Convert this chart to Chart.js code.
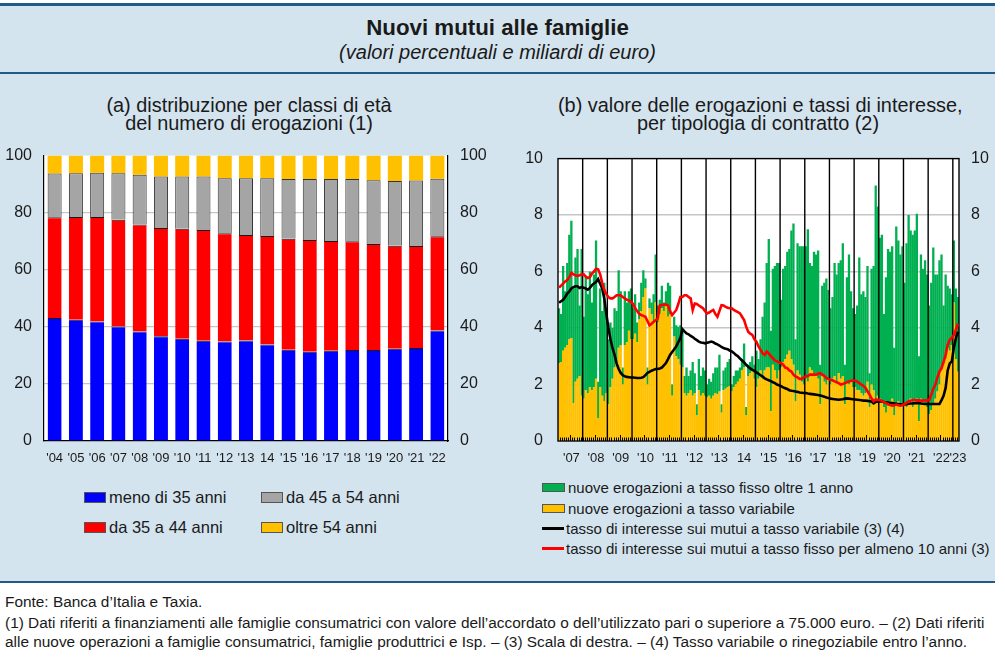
<!DOCTYPE html>
<html>
<head>
<meta charset="utf-8">
<script src="https://cdn.jsdelivr.net/npm/chart.js@4"></script>
<style>
  html, body { margin:0; padding:0; background:#ffffff; }
  body { width:1005px; height:672px; position:relative; overflow:hidden;
         font-family:"Liberation Sans", Arial, sans-serif; color:#1a1a1a; }
  .abs { position:absolute; }
  .panel { left:0; top:6px; width:995px; height:575px; background:#d3e4ef; }
  .rule { left:0; width:995px; background:#1f5b86; }
  .center { text-align:center; white-space:nowrap; }
  .lg { position:absolute; white-space:nowrap; display:flex; align-items:center; }
  .box { display:inline-block; box-sizing:border-box; border:1px solid #555; margin-right:3px; }
  .ln { display:inline-block; height:3px; margin-right:2px; }
  .foot { left:5px; font-size:15.4px; line-height:20px; white-space:nowrap; color:#1a1a1a; }
</style>
</head>
<body>
<div class="abs panel"></div>
<div class="abs rule" style="top:3px;height:3px;"></div>
<div class="abs rule" style="top:72px;height:2px;"></div>
<div class="abs rule" style="top:581px;height:2px;"></div>

<div class="abs center" style="left:0;width:995px;top:16px;font-weight:bold;font-size:22.3px;line-height:24px;">Nuovi mutui alle famiglie</div>
<div class="abs center" style="left:0;width:995px;top:41px;font-style:italic;font-size:20px;line-height:22px;">(valori percentuali e miliardi di euro)</div>

<div class="abs center" style="left:49px;width:400px;top:96px;font-size:19.9px;line-height:18px;">(a) distribuzione per classi di età<br>del numero di erogazioni (1)</div>
<div class="abs center" style="left:558px;width:400px;top:96px;font-size:19.9px;line-height:18px;">(b) valore delle erogazioni e tassi di interesse,<br>per tipologia di contratto (2)</div>

<canvas id="ageChart" class="abs" width="500" height="342" style="left:0;top:134px;"></canvas>
<canvas id="loanChart" class="abs" width="495" height="342" style="left:500px;top:134px;"></canvas>

<div class="abs foot" style="top:592px;">Fonte: Banca d’Italia e Taxia.</div>
<div class="abs foot" style="top:613px;">(1) Dati riferiti a finanziamenti alle famiglie consumatrici con valore dell’accordato o dell’utilizzato pari o superiore a 75.000 euro. – (2) Dati riferiti</div>
<div class="abs foot" style="top:632px;">alle nuove operazioni a famiglie consumatrici, famiglie produttrici e Isp. – (3) Scala di destra. – (4) Tasso variabile o rinegoziabile entro l’anno.</div>

<script>
// ---------------- Panel (a): age classes (percent) ----------------
const ageYears = ["'04","'05","'06","'07","'08","'09","'10","'11","'12","'13","14","'15","'16","'17","'18","'19","'20","'21","'22"];
const under35   = [43.1,42.5,41.9,40.1,38.4,36.7,35.8,35.1,34.9,35.2,33.8,32.0,31.3,31.6,31.9,31.9,32.3,32.6,38.7];
const age35to44 = [35.3,36.0,36.6,37.4,37.5,37.9,38.6,38.8,37.9,37.0,38.0,38.9,39.1,38.5,38.1,37.1,36.1,35.7,33.0];
const age45to54 = [15.3,15.3,15.5,16.3,17.4,18.1,18.3,18.8,19.3,19.9,20.3,20.9,21.4,21.7,21.8,22.4,22.7,23.0,20.2];
const over54    = [6.3,6.2,6.0,6.2,6.7,7.3,7.3,7.3,7.9,7.9,7.9,8.2,8.2,8.2,8.2,8.6,8.9,8.7,8.1];
const ageTicks  = [0,20,40,60,80,100];

// ---------------- Panel (b): monthly loans (bn euro) and rates (%) ----------------
const loanYears = ["'07","'08","'09","'10","'11","'12","'13","14","'15","'16","'17","'18","'19","'20","'21","'22","'23"];
const monthsInYear = [12,12,12,12,12,12,12,12,12,12,12,12,12,12,12,12,3];
const variableLoans = [
  2.75,2.8,3.2,3.3,3.4,3.6,3.65,1.35,2.1,2.2,2.3,1.6,
  1.5,1.8,1.7,1.9,1.8,1.9,2.2,0.8,1.9,1.6,1.4,1.7,
  1.3,1.9,2.2,2.6,2.8,3.3,3.4,2.0,3.4,3.5,3.9,3.6,
  3.6,3.8,3.5,4.3,4.6,5.1,5.4,2.0,4.7,4.5,4.2,4.9,
  4.2,4.5,4.7,4.6,4.8,4.4,4.5,1.6,3.7,3.0,2.9,2.7,
  2.6,1.7,1.6,1.7,1.8,1.6,1.7,0.9,1.8,1.6,1.7,1.6,
  1.55,1.6,1.5,1.6,1.7,1.65,1.75,1.0,1.8,1.85,1.9,1.95,
  1.75,1.9,2.0,2.1,2.2,2.5,2.6,0.9,2.3,2.4,2.5,2.2,
  1.9,2.2,2.5,2.2,2.5,2.6,2.6,1.05,2.7,2.5,2.2,2.5,
  2.6,2.8,2.9,3.05,3.2,2.9,2.7,1.4,2.5,2.35,2.1,2.0,
  2.2,2.1,2.6,2.5,2.3,2.4,2.2,1.3,2.3,2.1,2.0,2.2,
  2.0,2.2,2.3,2.1,2.4,2.2,2.3,1.3,2.1,2.0,2.1,1.9,
  1.9,1.8,1.8,1.7,1.6,1.7,2.1,1.2,2.0,1.8,1.4,1.6,
  1.5,1.4,1.2,1.0,1.3,1.4,1.5,0.9,1.3,1.4,1.2,1.3,
  1.3,1.2,1.4,1.5,1.2,1.4,1.5,0.7,1.5,1.4,1.3,1.2,
  0.95,1.1,1.3,1.5,1.75,2.0,2.5,2.7,2.9,3.3,3.2,3.4,
  4.9,2.9,2.45
];
const fixedLoans = [
  1.95,1.7,3.0,2.0,2.9,3.7,4.15,4.05,4.4,4.6,2.5,5.2,
  2.9,4.0,3.5,4.1,3.1,4.0,4.9,1.3,3.5,3.0,4.2,2.8,
  2.3,2.3,1.8,2.1,1.8,2.75,1.9,0.6,1.9,1.4,1.4,1.8,
  1.1,1.4,0.7,0.6,1.0,0.95,0.35,0.6,0.35,0.4,1.0,1.7,
  0.6,0.5,0.8,0.3,0.5,1.2,1.0,0.4,0.7,1.1,1.15,1.4,
  1.3,0.6,1.0,0.6,0.7,1.2,0.7,0.4,1.1,0.7,0.9,0.9,
  0.45,0.6,0.6,0.8,0.9,0.95,1.3,0.3,0.7,0.75,0.9,0.95,
  0.25,0.4,0.5,0.4,0.4,0.4,0.85,0.3,0.4,0.4,0.5,0.5,
  1.3,0.7,1.1,2.2,2.4,3.7,4.55,2.85,3.4,3.7,4.1,3.8,
  2.4,3.3,3.3,3.65,3.6,4.55,5.0,2.2,4.5,4.55,4.8,4.9,
  4.7,5.4,3.7,3.7,4.4,4.2,4.55,1.4,3.2,3.5,3.75,3.15,
  2.7,2.9,4.0,3.8,3.9,4.2,4.7,1.4,3.7,4.6,3.2,2.8,
  2.6,3.0,4.7,3.5,3.7,3.4,4.1,1.2,4.1,4.4,7.65,6.7,
  5.7,5.9,3.3,4.8,5.5,5.3,5.4,2.4,6.3,5.7,5.4,5.6,
  4.3,5.8,6.6,5.95,6.1,6.05,6.55,2.3,5.1,4.7,5.1,4.7,
  3.85,4.5,5.55,4.4,4.15,4.4,4.1,2.1,3.0,2.2,2.2,1.8,
  2.2,2.5,2.65
];
const variableRate = [
  4.9,4.95,5.0,5.1,5.22,5.3,5.4,5.45,5.48,5.48,5.42,5.45,
  5.43,5.4,5.36,5.42,5.52,5.58,5.63,5.73,5.57,5.4,5.05,4.5,
  4.0,3.6,3.3,3.05,2.75,2.55,2.41,2.33,2.29,2.27,2.26,2.25,
  2.25,2.24,2.23,2.23,2.24,2.26,2.33,2.41,2.45,2.49,2.52,2.55,
  2.55,2.57,2.6,2.68,2.76,2.9,3.05,3.15,3.25,3.35,3.5,3.64,
  3.96,3.88,3.81,3.78,3.72,3.68,3.62,3.57,3.52,3.49,3.48,3.46,
  3.48,3.5,3.52,3.5,3.45,3.42,3.38,3.33,3.29,3.27,3.25,3.2,
  3.17,3.12,3.05,3.0,2.92,2.85,2.78,2.7,2.63,2.57,2.52,2.48,
  2.43,2.38,2.33,2.28,2.22,2.18,2.15,2.12,2.08,2.05,2.0,1.97,
  1.94,1.9,1.87,1.84,1.8,1.78,1.77,1.75,1.74,1.72,1.71,1.7,
  1.7,1.68,1.67,1.66,1.65,1.64,1.63,1.61,1.59,1.57,1.54,1.52,
  1.5,1.49,1.48,1.47,1.46,1.47,1.48,1.5,1.51,1.5,1.49,1.48,
  1.47,1.46,1.45,1.44,1.43,1.43,1.42,1.41,1.4,1.33,1.38,1.4,
  1.41,1.4,1.38,1.37,1.36,1.35,1.34,1.33,1.32,1.31,1.3,1.29,
  1.29,1.3,1.32,1.33,1.33,1.34,1.35,1.34,1.33,1.32,1.31,1.31,
  1.31,1.31,1.31,1.31,1.31,1.31,1.45,1.6,1.88,2.5,2.75,2.82,
  3.3,3.65,3.87
];
const fixedRate = [
  5.43,5.5,5.57,5.65,5.7,5.8,5.95,5.9,5.87,5.85,5.87,5.9,
  5.9,5.82,5.77,5.8,5.93,6.0,6.1,6.08,5.9,5.6,5.35,5.2,
  5.1,5.05,5.05,5.1,5.16,5.16,5.16,5.1,5.05,5.0,4.97,4.93,
  4.85,4.7,4.6,4.5,4.46,4.43,4.4,4.25,4.1,4.15,4.22,4.28,
  4.34,4.8,4.82,4.83,4.83,4.8,4.6,4.46,4.55,4.64,4.85,5.1,
  5.1,5.16,5.16,5.1,5.05,4.64,4.87,4.85,4.8,4.75,4.7,4.6,
  4.52,4.55,4.6,4.64,4.5,4.4,4.6,4.81,4.8,4.75,4.72,4.7,
  4.7,4.64,4.6,4.56,4.52,4.4,4.28,4.05,3.87,3.8,3.76,3.6,
  3.52,3.35,3.23,3.1,3.05,3.17,3.1,3.0,2.93,2.85,2.82,2.78,
  2.76,2.7,2.6,2.58,2.5,2.46,2.35,2.29,2.25,2.2,2.2,2.25,
  2.29,2.3,2.35,2.35,2.35,2.35,2.38,2.4,2.35,2.3,2.23,2.2,
  2.17,2.15,2.11,2.08,2.05,2.0,2.02,2.05,2.08,2.11,2.13,2.14,
  2.14,2.1,2.05,2.0,1.95,1.88,1.76,1.64,1.5,1.41,1.47,1.45,
  1.45,1.42,1.38,1.35,1.3,1.27,1.25,1.27,1.29,1.27,1.25,1.27,
  1.31,1.35,1.4,1.43,1.45,1.45,1.44,1.44,1.43,1.43,1.44,1.43,
  1.45,1.64,1.85,2.0,2.25,2.46,2.58,2.8,3.05,3.4,3.58,3.65,
  3.75,3.95,4.15
];
const rateTicks = [0,2,4,6,8,10];

// ---------------- common ----------------
const FONT = '"Liberation Sans", Arial, sans-serif';
const TXT = '#1a1a1a';
const GRID = '#c6c6c6';
Chart.defaults.font.family = FONT;
Chart.defaults.color = TXT;

const whitePlot = {
  id: 'whitePlot',
  beforeDraw(chart) {
    const { ctx, chartArea: a } = chart;
    ctx.save();
    ctx.fillStyle = '#ffffff';
    ctx.fillRect(a.left, a.top, a.right - a.left, a.bottom - a.top);
    ctx.restore();
  }
};

const monthLabels = [];
const monthTickText = [];
loanYears.forEach((y, yi) => {
  for (let m = 0; m < monthsInYear[yi]; m++) {
    monthLabels.push(y + '-' + (m + 1));
    const mid = monthsInYear[yi] === 12 ? 6 : 2;
    monthTickText.push(m === mid ? y : '');
  }
});

// ---------------- chart (a) ----------------
const segBorder = { top: 1, left: 0, right: 0, bottom: 0 };
new Chart(document.getElementById('ageChart'), {
  type: 'bar',
  data: {
    labels: ageYears,
    datasets: [
      { label: 'meno di 35 anni', data: under35, backgroundColor: '#0000ff', borderColor: '#1a1a1a', borderWidth: segBorder },
      { label: 'da 35 a 44 anni', data: age35to44, backgroundColor: '#ff0000', borderColor: '#1a1a1a', borderWidth: segBorder },
      { label: 'da 45 a 54 anni', data: age45to54, backgroundColor: '#a5a5a5', borderColor: '#333', borderWidth: { top: 1, left: 1, right: 1, bottom: 0 } },
      { label: 'oltre 54 anni', data: over54, backgroundColor: '#ffc000', borderColor: '#1a1a1a', borderWidth: 0 }
    ]
  },
  options: {
    responsive: false, animation: false,
    layout: { padding: 0 },
    plugins: { legend: { display: false }, tooltip: { enabled: false } },
    datasets: { bar: { barPercentage: 0.66, categoryPercentage: 1, borderSkipped: 'start' } },
    scales: {
      x: {
        stacked: true,
        grid: { display: false, drawTicks: false },
        border: { color: '#000', width: 1.2 },
        ticks: { font: { size: 13 }, padding: 10, maxRotation: 0, autoSkip: false, color: TXT },
        afterFit: s => { s.height = 35; }
      },
      y: {
        stacked: true, min: 0, max: 100,
        afterBuildTicks: s => { s.ticks = ageTicks.map(v => ({ value: v })); },
        grid: { color: c => (c.tick && (c.tick.value === 0 || c.tick.value === 100)) ? 'rgba(0,0,0,0)' : GRID, lineWidth: 1.2, drawTicks: false },
        border: { color: '#000', width: 1.2 },
        ticks: { font: { size: 16 }, padding: 12, color: TXT },
        afterFit: s => { s.width = 44; }
      },
      y2: {
        position: 'right', min: 0, max: 100,
        afterBuildTicks: s => { s.ticks = ageTicks.map(v => ({ value: v })); },
        grid: { display: false, drawTicks: false },
        border: { color: '#000', width: 1.2 },
        ticks: { font: { size: 16 }, padding: 12, color: TXT },
        afterFit: s => { s.width = 52; }
      }
    }
  },
  plugins: [whitePlot]
});

// ---------------- chart (b) ----------------
const loanFrame = {
  id: 'loanFrame',
  afterDatasetDraw(chart, args) {
    if (args.index !== 1) return;
    const { ctx, chartArea: a, scales: { x } } = chart;
    const n = monthLabels.length;
    const boundary = i => (x.getPixelForValue(i - 1) + x.getPixelForValue(i)) / 2;
    ctx.save();
    ctx.strokeStyle = '#000'; ctx.lineWidth = 1;
    for (let i = 1; i < n; i++) {
      const px = Math.round(boundary(i)) + 0.5;
      const len = (i % 12 === 6) ? 6 : 3.5;
      ctx.beginPath(); ctx.moveTo(px, a.bottom); ctx.lineTo(px, a.bottom - len); ctx.stroke();
    }
    ctx.lineWidth = 1.4;
    for (let i = 12; i < n; i += 12) {
      const px = boundary(i);
      ctx.beginPath(); ctx.moveTo(px, a.top); ctx.lineTo(px, a.bottom); ctx.stroke();
    }
    ctx.strokeRect(a.left, a.top, a.right - a.left, a.bottom - a.top);
    ctx.restore();
  }
};

new Chart(document.getElementById('loanChart'), {
  type: 'bar',
  data: {
    labels: monthLabels,
    datasets: [
      { type: 'bar', label: 'nuove erogazioni a tasso fisso oltre 1 anno', data: fixedLoans, backgroundColor: '#00b050', order: 2, stack: 'loans', yAxisID: 'y' },
      { type: 'bar', label: 'nuove erogazioni a tasso variabile', data: variableLoans, backgroundColor: '#ffc000', order: 1, stack: 'loans', yAxisID: 'y' },
      { type: 'line', label: 'tasso di interesse sui mutui a tasso fisso per almeno 10 anni (3)', data: fixedRate, borderColor: '#ff0000', borderWidth: 2.6, pointRadius: 0, tension: 0, order: 0, yAxisID: 'y2' },
      { type: 'line', label: 'tasso di interesse sui mutui a tasso variabile (3) (4)', data: variableRate, borderColor: '#000000', borderWidth: 2.6, pointRadius: 0, tension: 0, order: 0, yAxisID: 'y2' }
    ]
  },
  options: {
    responsive: false, animation: false,
    layout: { padding: 0 },
    plugins: { legend: { display: false }, tooltip: { enabled: false } },
    datasets: { bar: { barPercentage: 1.12, categoryPercentage: 1, borderWidth: 0 } },
    scales: {
      x: {
        stacked: true,
        grid: { display: false, drawTicks: false },
        border: { display: false },
        ticks: { font: { size: 13 }, padding: 10, maxRotation: 0, minRotation: 0, autoSkip: false, color: TXT,
                 callback: (v, i) => monthTickText[i] },
        afterFit: s => { s.height = 35; }
      },
      y: {
        stacked: true, min: 0, max: 10,
        afterBuildTicks: s => { s.ticks = rateTicks.map(v => ({ value: v })); },
        grid: { color: c => (c.tick && (c.tick.value === 0 || c.tick.value === 10)) ? 'rgba(0,0,0,0)' : GRID, lineWidth: 1.4, drawTicks: false },
        border: { display: false },
        ticks: { font: { size: 16 }, padding: 15, color: TXT },
        afterFit: s => { s.width = 58; }
      },
      y2: {
        position: 'right', min: 0, max: 10,
        afterBuildTicks: s => { s.ticks = rateTicks.map(v => ({ value: v })); },
        grid: { display: false, drawTicks: false },
        border: { display: false },
        ticks: { font: { size: 16 }, padding: 12, color: TXT },
        afterFit: s => { s.width = 36; }
      }
    }
  },
  plugins: [whitePlot, loanFrame]
});

// ---------------- HTML legends ----------------
function boxItem(left, top, color, text, size, w, h) {
  const d = document.createElement('div');
  d.className = 'lg';
  d.style.left = left + 'px'; d.style.top = top + 'px'; d.style.fontSize = size + 'px'; d.style.height = '20px';
  d.innerHTML = '<span class="box" style="width:' + w + 'px;height:' + h + 'px;background:' + color + '"></span>' + text;
  document.body.appendChild(d);
}
function lineItem(left, top, color, text, size) {
  const d = document.createElement('div');
  d.className = 'lg';
  d.style.left = left + 'px'; d.style.top = top + 'px'; d.style.fontSize = size + 'px'; d.style.height = '20px';
  d.innerHTML = '<span class="ln" style="width:22px;background:' + color + '"></span>' + text;
  document.body.appendChild(d);
}
boxItem(84, 487, '#0000ff', 'meno di 35 anni', 16.5, 22, 11);
boxItem(261, 487, '#a5a5a5', 'da 45 a 54 anni', 16.5, 22, 11);
boxItem(84, 517, '#ff0000', 'da 35 a 44 anni', 16.5, 22, 11);
boxItem(261, 517, '#ffc000', 'oltre 54 anni', 16.5, 22, 11);

boxItem(542, 477, '#00b050', 'nuove erogazioni a tasso fisso oltre 1 anno', 15, 23, 9);
boxItem(542, 498, '#ffc000', 'nuove erogazioni a tasso variabile', 15, 23, 9);
lineItem(542, 518, '#000000', 'tasso di interesse sui mutui a tasso variabile (3) (4)', 15);
lineItem(542, 538, '#ff0000', 'tasso di interesse sui mutui a tasso fisso per almeno 10 anni (3)', 15);
</script>
</body>
</html>
